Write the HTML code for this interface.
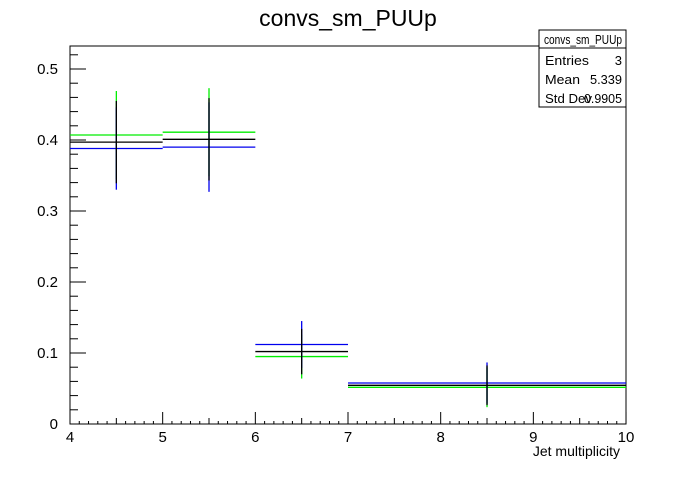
<!DOCTYPE html>
<html><head><meta charset="utf-8"><style>
body{margin:0;background:#fff;}
svg text{font-family:"Liberation Sans",sans-serif;}
</style></head><body>
<svg id="chart" width="696" height="472" xmlns="http://www.w3.org/2000/svg">
<rect width="696" height="472" fill="#fff"/>
<text x="348" y="26" style="font-size:23px" text-anchor="middle">convs_sm_PUUp</text>
<rect x="70" y="46" width="556" height="378" fill="none" stroke="#000" stroke-width="1"/>
<g id="axes"></g>
<g id="series"></g>
<text x="620" y="456" style="font-size:14px" text-anchor="end">Jet multiplicity</text>
<g>
<rect x="539" y="30" width="87" height="77" fill="#fff" stroke="#000"/>
<line x1="539" y1="48" x2="626" y2="48" stroke="#000"/>
<text x="544" y="44" style="font-size:13px" textLength="78" lengthAdjust="spacingAndGlyphs">convs_sm_PUUp</text>
<text x="545" y="65" style="font-size:13px" textLength="44" lengthAdjust="spacingAndGlyphs">Entries</text><text x="622" y="65" style="font-size:13px" text-anchor="end">3</text>
<text x="545" y="84" style="font-size:13px" textLength="35" lengthAdjust="spacingAndGlyphs">Mean</text><text x="622" y="84" style="font-size:13px" text-anchor="end" textLength="32" lengthAdjust="spacingAndGlyphs">5.339</text>
<text x="545" y="103" style="font-size:13px" textLength="47" lengthAdjust="spacingAndGlyphs">Std Dev</text><text x="622" y="103" style="font-size:13px" text-anchor="end" textLength="38" lengthAdjust="spacingAndGlyphs">0.9905</text>
</g>
</svg>
<script>
const binEdges=[4,5,6,7,10];
const greenVals=[0.407,0.411,0.095,0.0517];
const blueVals=[0.388,0.390,0.112,0.0577];
const blackVals=[0.397,0.401,0.102,0.0545];
const greenErr=[0.062,0.062,0.031,0.028];
const blueErr=[0.058,0.063,0.033,0.029];
const blackErr=[0.058,0.058,0.032,0.028];
const xTicks=[4,5,6,7,8,9,10];
const yTicks=[0,0.1,0.2,0.3,0.4,0.5];
const X=v=>70+(v-4)*92.67;
const Y=v=>424-v*710;
const NS="http://www.w3.org/2000/svg";
function mk(parent,tag,attrs){const e=document.createElementNS(NS,tag);for(const k in attrs)e.setAttribute(k,attrs[k]);parent.appendChild(e);return e;}
const ax=document.getElementById('axes');
xTicks.forEach(t=>{
 const l=mk(ax,'line',{x1:X(t),x2:X(t),y1:424,y2:412,stroke:'#000'});
 
 
 const tx=mk(ax,'text',{x:X(t),y:442,style:'font-size:15px','text-anchor':'middle'});tx.textContent=t;
 
 
 if(t<10)for(let i=1;i<10;i++){const v=t+i*0.1;mk(ax,'line',{x1:X(v),x2:X(v),y1:424,y2:i==5?418:421,stroke:'#000'});}
});
yTicks.forEach(t=>{
 const l=mk(ax,'line',{x1:70,x2:86,y1:Y(t),y2:Y(t),stroke:'#000'});
 
 
 const tx=mk(ax,'text',{x:58,y:Y(t)+5,style:'font-size:15px','text-anchor':'end'});tx.textContent=t;
 
 
 for(let i=1;i<5;i++){const v=t+i*0.02;if(Y(v)>46)mk(ax,'line',{x1:70,x2:78,y1:Y(v),y2:Y(v),stroke:'#000'});}
});
const sg=document.getElementById('series');
function drawSeries(vals,errs,color,name){
 const g=mk(sg,'g',{});
 
 
 for(let i=0;i<vals.length;i++){
  const c=(binEdges[i]+binEdges[i+1])/2;
  const h=mk(g,'line',{x1:X(binEdges[i]),x2:X(binEdges[i+1]),y1:Y(vals[i]),y2:Y(vals[i]),stroke:color,'stroke-width':1.3});
  
  
  const e=mk(g,'line',{x1:X(c),x2:X(c),y1:Y(vals[i]+errs[i]),y2:Y(vals[i]-errs[i]),stroke:color,'stroke-width':1.3});
  
  
 }
}
drawSeries(greenVals,greenErr,'#00ee00','green-series');
drawSeries(blueVals,blueErr,'#0000ee','blue-series');
drawSeries(blackVals,blackErr,'#000','black-series');
</script>
</body></html>
